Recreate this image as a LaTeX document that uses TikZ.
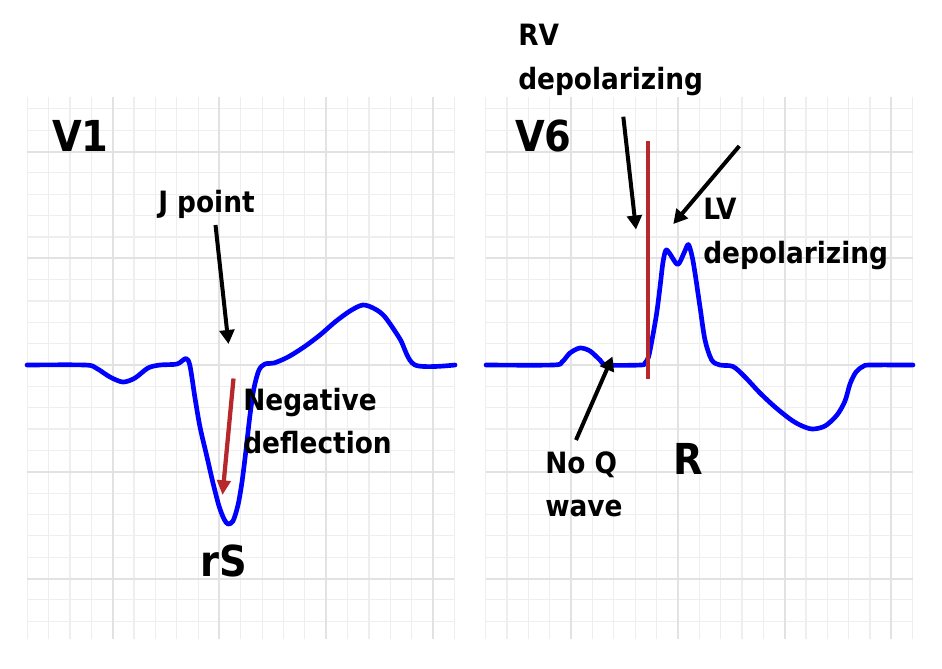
\documentclass[tikz,border=0pt]{standalone}
\usepackage{fontspec}
\newfontfamily\lblfont{DejaVu Sans Condensed Bold}
\usetikzlibrary{arrows.meta}
\definecolor{ecgblue}{RGB}{0,0,255}
\definecolor{ecgred}{RGB}{183,40,45}
\definecolor{gridminor}{RGB}{238,238,238}
\definecolor{gridmajor}{RGB}{226,226,226}
\begin{document}
\begin{tikzpicture}[x=0.75pt,y=-0.75pt,
  minorline/.style={draw=gridminor,line width=0.9pt},
  majorline/.style={draw=gridmajor,line width=1.5pt},
  wave/.style={draw=ecgblue,line width=3.5pt,line join=round,line cap=round},
  pointer/.style={draw=black,line width=3pt,-{Triangle[length=10.5pt,width=11pt]}},
  redpointer/.style={draw=ecgred,line width=3.2pt,-{Triangle[length=11pt,width=10pt]}},
  bigtxt/.style={font=\lblfont\fontsize{32}{38}\selectfont,inner sep=0pt,anchor=base west},
  smalltxt/.style={font=\lblfont\fontsize{22}{32.6}\selectfont,inner sep=0pt,anchor=base west,align=left}]
\useasboundingbox (0,0) rectangle (942,668);
\fill[white] (0,0) rectangle (942,668);
% grids
\foreach \ox in {27.3,485.7}{
  \foreach \j in {0,1,2,3,5,6,7,8,10,11,12,13,15,16,17,18,20}{
    \draw[minorline] ({\ox+21.35*\j},97) -- ({\ox+21.35*\j},639);
  }
  \foreach \k in {-12,-11,-9,-8,-7,-6,-4,-3,-2,-1,1,2,3,4,6,7,8,9,11,12}{
    \draw[minorline] (\ox,{365+21.35*\k}) -- ({\ox+427},{365+21.35*\k});
  }
  \foreach \j in {4,9,14,19}{
    \draw[majorline] ({\ox+21.35*\j},97) -- ({\ox+21.35*\j},639);
  }
  \foreach \k in {-10,-5,0,5,10}{
    \draw[majorline] (\ox,{365+21.35*\k}) -- ({\ox+427},{365+21.35*\k});
  }
}
% V1 trace
\draw[wave] plot[smooth,tension=0.5] coordinates {(27,365) (85,365) (96,368) (110,377) (123,382) (135,378) (148,368) (160,365) (177,364) (186,358.5) (190,366) (195,398) (200,427) (207,457) (213,483) (219,506) (224,519) (228,524) (233,521) (238,505) (242,482) (246,450) (250,415) (254,388) (259,370) (265,364) (274,363) (288,357) (304,347) (320,335) (335,322) (350,311) (363,305) (375,309) (385,317) (400,339) (415,365) (455,365)};
% V6 trace
\draw[wave] plot[smooth,tension=0.5] coordinates {(486,365) (553,365) (562,362) (570,353) (580,348) (590,351) (600,360) (607,365) (641,365) (645,363) (648.5,357) (652,340) (656.7,313) (660,287) (663,262) (666,250) (670,254) (677.7,264.5) (684,253) (688.3,244.5) (692,256) (695,273) (700,307) (705,340) (711.7,360) (720,365) (733,366.5) (745,377) (760,393) (775,407) (790,419) (800,425) (812,429) (825,426) (837,415) (845,401) (850,384) (856,372) (863,366.5) (870,365) (913,365)};
% red markers
\coordinate (redtop) at (648.3,141);
\coordinate (redbot) at (648.3,378.5);
\draw[draw=ecgred,line width=3pt] (redtop) -- (redbot);
\coordinate (negstart) at (233.5,378.5);
\coordinate (negtip) at (222.5,495);
\draw[redpointer] (negstart) -- (negtip);
% black pointers
\coordinate (jstart) at (215.5,225);
\coordinate (jtip) at (228.5,344);
\draw[pointer] (jstart) -- (jtip);
\coordinate (rvstart) at (623.3,116.7);
\coordinate (rvtip) at (636,229.5);
\draw[pointer] (rvstart) -- (rvtip);
\coordinate (lvstart) at (739.3,146);
\coordinate (lvtip) at (673.3,224);
\draw[pointer] (lvstart) -- (lvtip);
\coordinate (nqstart) at (576,440);
\coordinate (nqtip) at (612.5,356.5);
\draw[pointer] (nqstart) -- (nqtip);
% labels
\node[bigtxt] (v1) at (52,151.4) {V1};
\node[bigtxt] (v6) at (515,151.4) {V6};
\node[bigtxt] (rs) at (200,576) {rS};
\node[bigtxt] (r) at (673,474) {R};
\node[smalltxt] (jp) at (158,212.5) {J point};
\node[smalltxt] (neg) at (243,453.6) {Negative\\deflection};
\node[smalltxt] (rv) at (518,89) {RV\\depolarizing};
\node[smalltxt] (lv) at (703,263) {LV\\depolarizing};
\node[smalltxt] (nq) at (545,516.8) {No Q\\wave};
\end{tikzpicture}
\end{document}
